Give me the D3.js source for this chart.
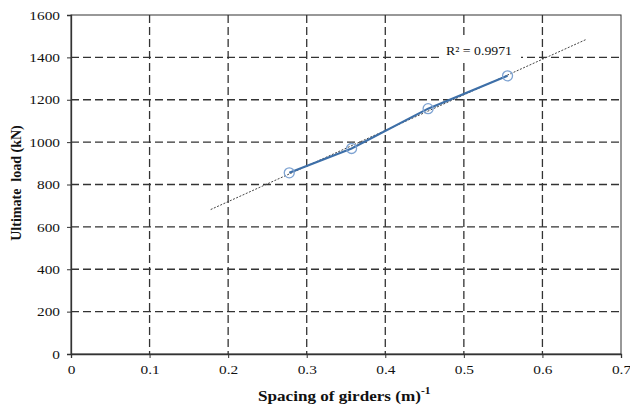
<!DOCTYPE html>
<html>
<head>
<meta charset="utf-8">
<script src="https://cdn.jsdelivr.net/npm/d3@7"></script>
<style>
  body { margin: 0; background: #fff; }
  text { font-family: "Liberation Serif", "Times New Roman", serif; fill: #111; }
</style>
</head>
<body>
<svg id="chart" width="630" height="408"></svg>
<script>
// spacing of girders (1/m) vs ultimate load (kN)
const spacing = [0.2778, 0.3571, 0.4545, 0.5556]
const load = [855, 970, 1158, 1313]
const xTicks = [0, 0.1, 0.2, 0.3, 0.4, 0.5, 0.6, 0.7]
const yTicks = [0, 200, 400, 600, 800, 1000, 1200, 1400, 1600]
const r2Label = "R² = 0.9971"

const margin = { top: 15, left: 71, right: 9, bottom: 54 },
      width = 630 - margin.left - margin.right,
      height = 408 - margin.top - margin.bottom

const svg = d3.select("#chart")
const g = svg.append("g")
    .attr("transform", "translate(" + margin.left + "," + margin.top + ")")

const x = d3.scaleLinear().domain([0, 0.7]).range([0, width])
const y = d3.scaleLinear().domain([0, 1600]).range([height, 0])

// the original picture is a little stretched sideways
function stretch (sel, k) {
  sel.each(function () {
    const w = this.getComputedTextLength()
    d3.select(this).attr("textLength", w * k).attr("lengthAdjust", "spacingAndGlyphs")
  })
}

// grid
g.append("g").selectAll("line")
  .data(yTicks.slice(1, -1))
  .enter().append("line")
    .attr("x1", 0).attr("x2", width)
    .attr("y1", d => y(d)).attr("y2", d => y(d))
    .attr("stroke", "#333").attr("stroke-width", 1.3)
    .attr("stroke-dasharray", "8,4")

g.append("g").selectAll("line")
  .data(xTicks.slice(1, -1))
  .enter().append("line")
    .attr("y1", 0).attr("y2", height)
    .attr("x1", d => x(d)).attr("x2", d => x(d))
    .attr("stroke", "#333").attr("stroke-width", 1.3)
    .attr("stroke-dasharray", "8,4")

// frame
g.append("rect")
  .attr("width", width).attr("height", height)
  .attr("fill", "none").attr("stroke", "#333").attr("stroke-width", 1)

// axes
const xAxis = g.append("g")
    .attr("transform", "translate(0," + height + ")")
    .call(d3.axisBottom(x).tickValues(xTicks).tickFormat(d3.format("")).tickSize(4).tickPadding(7))
const yAxis = g.append("g")
    .call(d3.axisLeft(y).tickValues(yTicks).tickFormat(d3.format("d")).tickSize(4).tickPadding(7))

;[xAxis, yAxis].forEach(a => {
  a.attr("font-family", null)
  a.select(".domain").attr("stroke", "#333").attr("stroke-width", 1.3)
  a.selectAll(".tick line").attr("stroke", "#333")
  a.selectAll("text")
    .style("font-size", "13px")
    .attr("fill", "#111")
    .call(stretch, 1.18)
})

// linear trendline, extended 0.1 both ways
const mx = d3.mean(spacing), my = d3.mean(load)
const sxy = d3.sum(spacing, (d, i) => (d - mx) * (load[i] - my))
const sxx = d3.sum(spacing, d => (d - mx) * (d - mx))
const slope = sxy / sxx, icpt = my - slope * mx
const tx = [d3.min(spacing) - 0.1, d3.max(spacing) + 0.1]

// R² label sits in a white box over the grid
g.append("rect")
  .attr("x", 372).attr("y", 23)
  .attr("width", 78).attr("height", 25)
  .attr("fill", "#fff")

g.append("line")
  .attr("x1", x(tx[0])).attr("y1", y(icpt + slope * tx[0]))
  .attr("x2", x(tx[1])).attr("y2", y(icpt + slope * tx[1]))
  .attr("stroke", "#444").attr("stroke-width", 1)
  .attr("stroke-dasharray", "2,1.5")

const pts = spacing.map((d, i) => [d, load[i]])

g.append("path")
  .datum(pts)
  .attr("fill", "none")
  .attr("stroke", "#3D6FA8").attr("stroke-width", 2.2)
  .attr("d", d3.line().x(d => x(d[0])).y(d => y(d[1])))

g.append("g").selectAll("circle")
  .data(pts)
  .enter().append("circle")
    .attr("cx", d => x(d[0])).attr("cy", d => y(d[1]))
    .attr("r", 5)
    .attr("fill", "none")
    .attr("stroke", "#7EA3D2").attr("stroke-width", 1.3)

g.append("text")
  .attr("x", 375).attr("y", 40)
  .style("font-size", "13px")
  .attr("textLength", 66).attr("lengthAdjust", "spacingAndGlyphs")
  .text(r2Label)

// axis titles
const xt = svg.append("text")
  .attr("x", 258).attr("y", 401)
  .style("font-size", "15px").style("font-weight", "bold")
xt.append("tspan").text("Spacing of girders (m)")
xt.append("tspan")
    .attr("dy", -7).style("font-size", "10px")
    .text("-1")
xt.selectAll("tspan").call(stretch, 1.14)

svg.append("text")
  .attr("transform", "translate(21," + 183 + ") rotate(-90)")
  .attr("text-anchor", "middle")
  .style("font-size", "14px").style("font-weight", "bold")
  .style("white-space", "pre")
  .text("Ultimate  load (kN)")
</script>
</body>
</html>
